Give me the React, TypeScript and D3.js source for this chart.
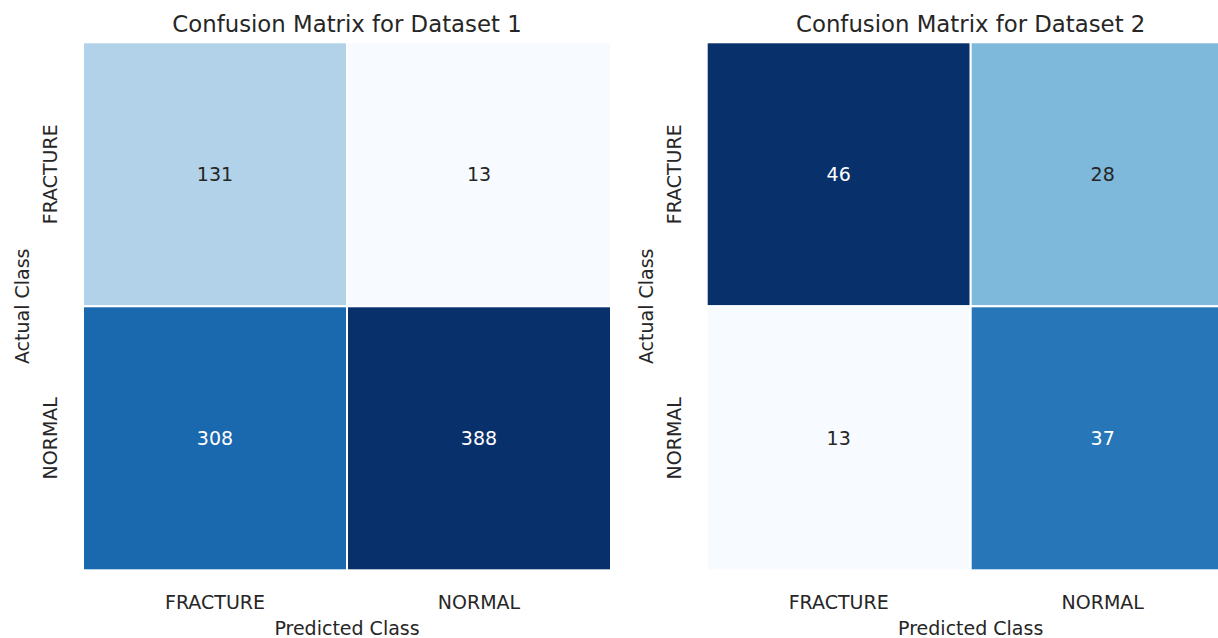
import * as d3 from "d3";

const classes = ["FRACTURE", "NORMAL"];
const dataset1 = [
  [131, 13],
  [308, 388],
];
const dataset2 = [
  [46, 28],
  [13, 37],
];
const titles = ["Confusion Matrix for Dataset 1", "Confusion Matrix for Dataset 2"];
const xLabel = "Predicted Class";
const yLabel = "Actual Class";

// matplotlib "Blues" = linear steps through the brewer colours
const bluesStops = [
  "#f7fbff", "#deebf7", "#c6dbef", "#9ecae1", "#6baed6",
  "#4292c6", "#2171b5", "#08519c", "#08306b",
];
const blues = d3.piecewise(d3.interpolateRgb, bluesStops);

const W = 1218;
const H = 638;
const font = "DejaVu Sans, sans-serif";
const ink = "#262626";
const fs = 19;

function luminance(c: string) {
  const rgb = d3.rgb(c);
  const f = (v: number) => {
    const s = v / 255;
    return s <= 0.03928 ? s / 12.92 : Math.pow((s + 0.055) / 1.055, 2.4);
  };
  return 0.2126 * f(rgb.r) + 0.7152 * f(rgb.g) + 0.0722 * f(rgb.b);
}

function Heatmap({ data, title, left, top }: { data: number[][]; title: string; left: number; top: number }) {
  const size = 528;
  const x = d3.scaleBand().domain(classes).range([0, size]);
  const y = d3.scaleBand().domain(classes).range([0, size]);
  const flat = data.flat();
  const color = d3.scaleSequential(blues).domain(d3.extent(flat) as [number, number]);
  const cx = size / 2;

  return (
    <g transform={`translate(${left},${top})`} fontFamily={font}>
      {data.map((row, i) =>
        row.map((v, j) => {
          const fill = color(v);
          return (
            <g key={`${i}-${j}`}>
              <rect
                x={x(classes[j])}
                y={y(classes[i])}
                width={x.bandwidth()}
                height={y.bandwidth()}
                fill={fill}
                stroke="#fff"
                strokeWidth={2}
              />
              <text
                x={x(classes[j])! + x.bandwidth() / 2}
                y={y(classes[i])! + y.bandwidth() / 2}
                textAnchor="middle"
                dominantBaseline="central"
                fontSize={fs}
                fill={luminance(fill) > 0.408 ? ink : "#ffffff"}
              >
                {v}
              </text>
            </g>
          );
        })
      )}
      <text x={cx} y={-18.5} textAnchor="middle" dominantBaseline="central" fontSize={22.8} fill={ink}>
        {title}
      </text>
      {classes.map((c) => (
        <text
          key={"x" + c}
          x={x(c)! + x.bandwidth() / 2}
          y={size + 32}
          textAnchor="middle"
          dominantBaseline="central"
          fontSize={fs}
          fill={ink}
        >
          {c}
        </text>
      ))}
      <text x={cx} y={size + 57.5} textAnchor="middle" dominantBaseline="central" fontSize={fs} fill={ink}>
        {xLabel}
      </text>
      {classes.map((c) => {
        const yy = y(c)! + y.bandwidth() / 2;
        return (
          <text
            key={"y" + c}
            transform={`translate(-33,${yy}) rotate(-90)`}
            textAnchor="middle"
            dominantBaseline="central"
            fontSize={fs}
            fill={ink}
          >
            {c}
          </text>
        );
      })}
      <text
        transform={`translate(-61,${cx}) rotate(-90)`}
        textAnchor="middle"
        dominantBaseline="central"
        fontSize={fs}
        fill={ink}
      >
        {yLabel}
      </text>
    </g>
  );
}

export default function App() {
  return (
    <svg
      width={W}
      height={H}
      viewBox={`0 0 ${W} ${H}`}
      style={{ position: "absolute", left: 0, top: 0, background: "#fff", display: "block" }}
    >
      <Heatmap data={dataset1} title={titles[0]} left={83} top={42.3} />
      <Heatmap data={dataset2} title={titles[1]} left={706.7} top={42.3} />
    </svg>
  );
}
